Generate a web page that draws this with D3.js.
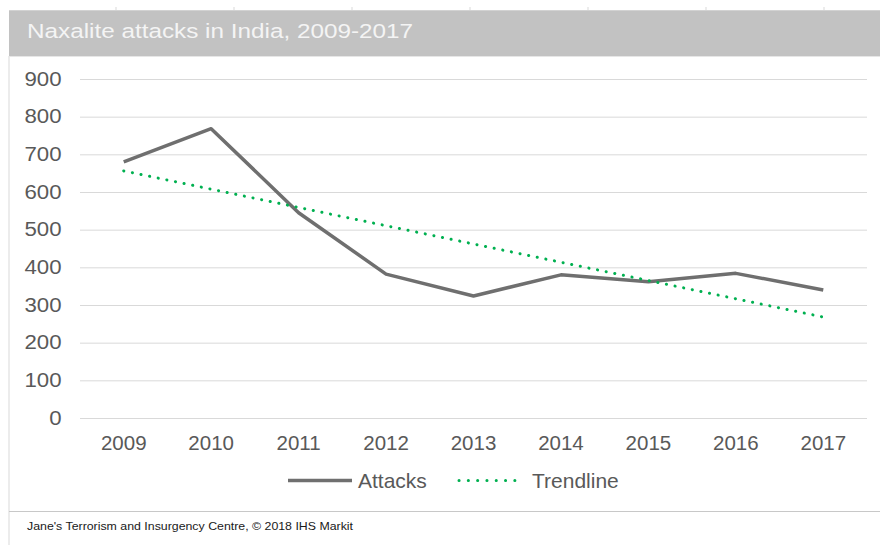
<!DOCTYPE html>
<html>
<head>
<meta charset="utf-8">
<script src="https://cdn.jsdelivr.net/npm/d3@7"></script>
<style>
  body { margin: 0; background: #fff; }
  svg { display: block; font-family: "Liberation Sans", Arial, sans-serif; }
</style>
</head>
<body>
<svg width="880" height="545"></svg>
<script>
const years = ["2009", "2010", "2011", "2012", "2013", "2014", "2015", "2016", "2017"];
const attacks = [680, 768, 545, 382, 324, 380, 362, 384, 340];
// trendline end points
const trendYears = ["2009", "2017"];
const trendValues = [656, 268];
const yTicks = [0, 100, 200, 300, 400, 500, 600, 700, 800, 900];

const svg = d3.select("svg");

const x = d3.scaleBand()
    .domain(years)
    .range([80, 867]);

const y = d3.scaleLinear()
    .domain([0, 900])
    .range([418, 79]);

const cx = d => x(d) + x.bandwidth() / 2;

// the source picture is slightly stretched sideways
function stretch(sel, k) {
    sel.each(function() {
        const w = this.getComputedTextLength();
        d3.select(this)
            .attr("textLength", w * k)
            .attr("lengthAdjust", "spacingAndGlyphs");
    });
}

// sheet frame
svg.append("line")
    .attr("x1", 9).attr("x2", 9)
    .attr("y1", 56).attr("y2", 545)
    .attr("stroke", "#d9d9d9");

[116, 234, 352, 470, 588, 706, 824].forEach(px => {
    svg.append("line")
        .attr("x1", px).attr("x2", px)
        .attr("y1", 7).attr("y2", 10)
        .attr("stroke", "#d9d9d9");
});

// title bar
svg.append("rect")
    .attr("x", 9).attr("y", 10)
    .attr("width", 871).attr("height", 46)
    .attr("fill", "#c2c2c2");
svg.append("line")
    .attr("x1", 9).attr("x2", 880)
    .attr("y1", 10.5).attr("y2", 10.5)
    .attr("stroke", "#d2d2d2");
svg.append("line")
    .attr("x1", 9).attr("x2", 880)
    .attr("y1", 56.5).attr("y2", 56.5)
    .attr("stroke", "#e6e6e6");

svg.append("text")
    .attr("x", 27).attr("y", 38)
    .attr("fill", "#f4f4f4")
    .attr("font-size", 20.5)
    .attr("textLength", 386)
    .attr("lengthAdjust", "spacingAndGlyphs")
    .text("Naxalite attacks in India, 2009-2017");

// gridlines + y labels
const yAxis = svg.append("g")
    .attr("transform", "translate(80,0)")
    .call(d3.axisLeft(y).tickValues(yTicks).tickSize(-(867 - 80)).tickPadding(18.5));
yAxis.select(".domain").remove();
yAxis.selectAll(".tick line").attr("stroke", "#d9d9d9");
yAxis.selectAll(".tick text")
    .attr("fill", "#595959")
    .attr("font-size", 19.5)
    .attr("font-family", "Liberation Sans, Arial, sans-serif")
    .call(stretch, 1.14);

// x labels
const xAxis = svg.append("g")
    .attr("transform", "translate(0,418)")
    .call(d3.axisBottom(x).tickSize(0).tickPadding(17.5));
xAxis.select(".domain").remove();
xAxis.selectAll(".tick text")
    .attr("fill", "#595959")
    .attr("font-size", 20.5)
    .attr("font-family", "Liberation Sans, Arial, sans-serif");

// series
const line = d3.line()
    .x((d, i) => cx(years[i]))
    .y(d => y(d));

svg.append("path")
    .datum(attacks)
    .attr("fill", "none")
    .attr("stroke", "#6f6f6f")
    .attr("stroke-width", 3.5)
    .attr("stroke-linejoin", "round")
    .attr("d", line);

const trendLine = d3.line()
    .x((d, i) => cx(trendYears[i]))
    .y(d => y(d));

svg.append("path")
    .datum(trendValues)
    .attr("fill", "none")
    .attr("stroke", "#00b050")
    .attr("stroke-width", 3)
    .attr("stroke-linecap", "round")
    .attr("stroke-dasharray", "0.1 8.7")
    .attr("d", trendLine);

// legend
const legend = svg.append("g");
legend.append("line")
    .attr("x1", 288).attr("x2", 352)
    .attr("y1", 480.5).attr("y2", 480.5)
    .attr("stroke", "#6f6f6f")
    .attr("stroke-width", 3.5);
legend.append("text")
    .attr("x", 358).attr("y", 488)
    .attr("fill", "#595959")
    .attr("font-size", 21)
    .text("Attacks");
legend.append("line")
    .attr("x1", 459).attr("x2", 524)
    .attr("y1", 480.5).attr("y2", 480.5)
    .attr("stroke", "#00b050")
    .attr("stroke-width", 3)
    .attr("stroke-linecap", "round")
    .attr("stroke-dasharray", "0.1 9.2");
legend.append("text")
    .attr("x", 532).attr("y", 488)
    .attr("fill", "#595959")
    .attr("font-size", 21)
    .text("Trendline");

// footer
svg.append("line")
    .attr("x1", 9).attr("x2", 880)
    .attr("y1", 511.5).attr("y2", 511.5)
    .attr("stroke", "#c8c8c8");
svg.append("text")
    .attr("x", 27).attr("y", 530)
    .attr("fill", "#1a1a1a")
    .attr("font-size", 11)
    .attr("textLength", 326)
    .attr("lengthAdjust", "spacingAndGlyphs")
    .text("Jane's Terrorism and Insurgency Centre, \u00a9 2018 IHS Markit");
</script>
</body>
</html>
